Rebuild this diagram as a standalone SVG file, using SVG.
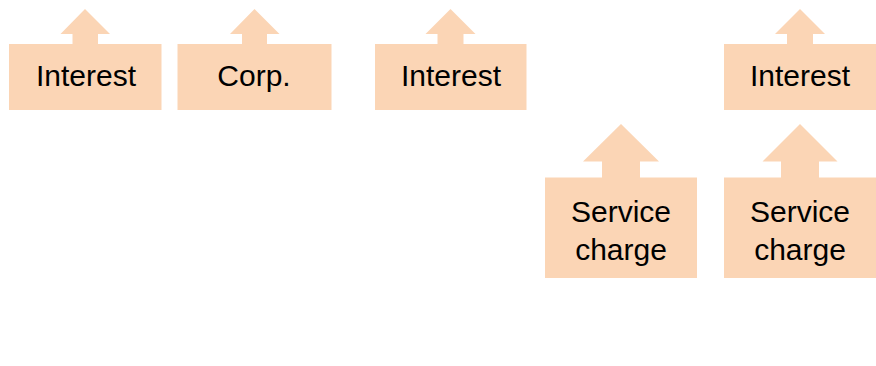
<svg xmlns="http://www.w3.org/2000/svg" width="876" height="366" viewBox="0 0 876 366">
  <style>
    .shape { fill: #FBD5B5; stroke: none; }
    .label { font-family: "Liberation Sans", Arial, sans-serif; font-size: 30px; fill: #000000; text-anchor: middle; }
  </style>
  <rect width="876" height="366" fill="#ffffff"/>

  <!-- top row: boxes with an up-arrow on top -->
  <g id="interest-1">
    <polygon class="shape" points="9,44 72.5,44 72.5,34 60.5,34 85,9 110,34 98,34 98,44 161.5,44 161.5,110 9,110"/>
    <text class="label" x="86" y="86">Interest</text>
  </g>
  <g id="corp">
    <polygon class="shape" points="177.5,44 242,44 242,34 230,34 254.5,9 279.5,34 267,34 267,44 331.5,44 331.5,110 177.5,110"/>
    <text class="label" x="254" y="86">Corp.</text>
  </g>
  <g id="interest-2">
    <polygon class="shape" points="375,44 437.5,44 437.5,34 425.5,34 450.5,9 475.5,34 463.5,34 463.5,44 526.5,44 526.5,110 375,110"/>
    <text class="label" x="451" y="86">Interest</text>
  </g>
  <g id="interest-3">
    <polygon class="shape" points="724,44 787,44 787,34 775,34 800,9 825,34 813,34 813,44 876,44 876,110 724,110"/>
    <text class="label" x="800" y="86">Interest</text>
  </g>

  <!-- second row: larger arrows -->
  <g id="service-charge-1">
    <polygon class="shape" points="545,177.5 602,177.5 602,161.5 583,161.5 621,124 659,161.5 640,161.5 640,177.5 697,177.5 697,278 545,278"/>
    <text class="label" x="621" y="221.5">Service</text>
    <text class="label" x="621" y="260">charge</text>
  </g>
  <g id="service-charge-2">
    <polygon class="shape" points="724,177.5 781,177.5 781,161.5 762.5,161.5 800,124 837.5,161.5 819,161.5 819,177.5 876,177.5 876,278 724,278"/>
    <text class="label" x="800" y="221.5">Service</text>
    <text class="label" x="800" y="260">charge</text>
  </g>

  <g id="connectors"/>
</svg>
